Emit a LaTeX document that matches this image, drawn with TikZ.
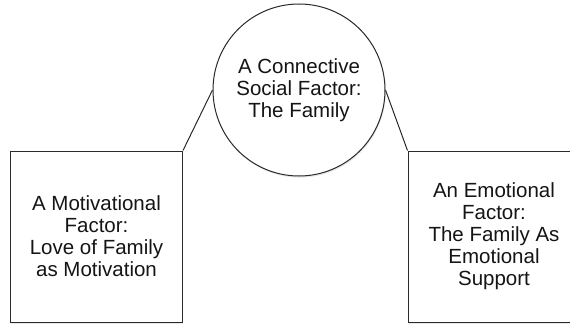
\documentclass[tikz,border=0pt]{standalone}
\usepackage{fontspec}
\setmainfont{Liberation Sans}
\usetikzlibrary{shadows}
\definecolor{edgegrey}{HTML}{2A2A2A}
\definecolor{textgrey}{HTML}{151515}
\tikzset{
  factor/.style={draw=edgegrey, line width=1pt, fill=white, inner sep=0pt,
    align=center, text=textgrey, font=\fontsize{20.5}{22}\selectfont,
    drop shadow={opacity=0.18, shadow xshift=0.8pt, shadow yshift=-1.6pt}},
  factorcircle/.style={factor, circle, minimum size=172pt},
  factorbox/.style={factor, rectangle, minimum width=172pt, minimum height=171pt},
}
\begin{document}
\begin{tikzpicture}[x=1pt, y=-1pt]
  \useasboundingbox (0,0) rectangle (570,324);
  \draw
    (299,90) node[factorcircle] (social) {A Connective\\Social Factor:\\The Family}
    (96.5,236.5) node[factorbox] (motiv) {A Motivational\\Factor:\\Love of Family\\as Motivation}
    (494,236.5) node[factorbox] (emot) {An Emotional\\Factor:\\The Family As\\Emotional\\Support};
  \begin{scope}[-, draw=edgegrey, line width=1pt]
    \draw (motiv.north east) to (social.west);
    \draw (social.east) to (emot.north west);
  \end{scope}
\end{tikzpicture}
\end{document}
